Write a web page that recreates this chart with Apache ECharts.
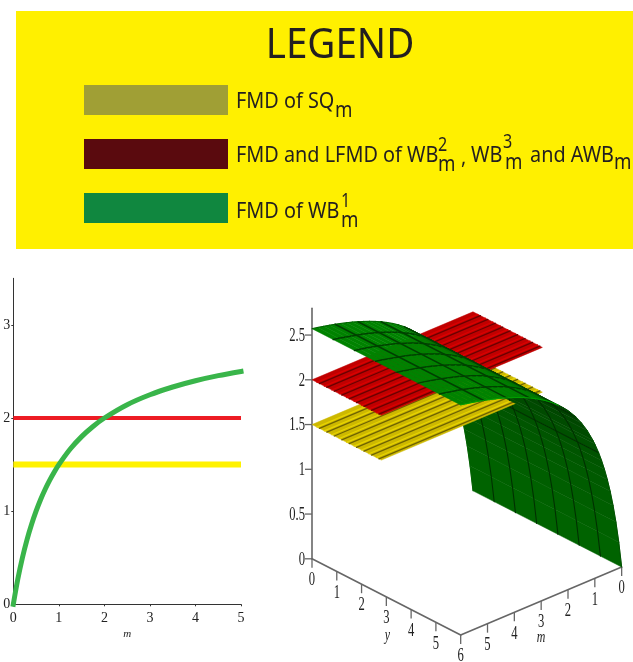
<!DOCTYPE html>
<html><head><meta charset="utf-8">
<style>html,body{margin:0;padding:0;background:#fff}#c{width:633px;height:662px}</style>
<script src="https://cdn.jsdelivr.net/npm/echarts@6/dist/echarts.min.js"></script>
</head><body><div id="c"></div>
<script>
// ---- 2D chart data
const lineM = [0,0.1,0.2,0.3,0.4,0.5,0.6,0.7,0.8,0.9,1,1.25,1.5,1.75,2,2.5,3,3.5,4,4.5,5];
const lineWB1 = [0,0.273,0.5,0.692,0.857,1,1.125,1.235,1.333,1.421,1.5,1.667,1.8,1.909,2,2.143,2.25,2.333,2.4,2.455,2.5];
const lineLimitsM = [0,5];
const lineRed = [2,2];
const lineYellow = [1.5,1.5];
const xTicks2D = [0,1,2,3,4,5];
const yTicks2D = [0,1,2,3];
// ---- 3D chart data
const surfM = [0,0.107,0.214,0.321,0.429,0.536,0.643,0.75,0.857,1,1.071,1.286,1.5,1.714,1.929,2,2.143,2.357,2.571,2.786,3,3.214,3.429,3.643,3.857,4.071,4.286,4.5,4.714,4.929,5.143,5.357,5.571,5.786,6];
const surfZ = [0,0.29,0.529,0.729,0.901,1.047,1.174,1.286,1.385,1.5,1.551,1.688,1.8,1.895,1.976,2,2.045,2.106,2.16,2.208,2.25,2.288,2.323,2.354,2.382,2.408,2.432,2.455,2.475,2.494,2.512,2.528,2.543,2.558,2.571];
const surfMGrid = [0.857,1.714,2.571,3.429,4.286,5.143];
const surfYGrid = [0.857,1.714,2.571,3.429,4.286,5.143];
const surfYRange = [0,6];
const planeMRange = [0,6];
const planeYRange = [0,2.8];
const planeRedZ = 2;
const planeYellowZ = 1.5;
const planeStripes = [0.3,0.6,0.9,1.2,1.5,1.8,2.1,2.4,2.7];
const zTicks3D = [0,0.5,1,1.5,2,2.5];
const yTicks3D = [0,1,2,3,4,5,6];
const mTicks3D = [0,1,2,3,4,5];
// ---- legend text
const legendTitle = 'LEGEND';

const serif = '"Liberation Serif"';
const sans = '"Noto Sans"';

function proj(m,y,z){ return [24.78*y+26.83*(6-m), 89.5*z-12.7*y+11.33*(6-m)]; }
function lerp(a,b,t){ t=Math.max(0,Math.min(1,t)); return a+(b-a)*t; }
function surfColor(mid,top){
  if(top){ return 'rgb(0,'+Math.round(lerp(92,130,(mid-2.27)/0.9))+',0)'; }
  return 'rgb(0,'+Math.round(lerp(100,52,mid/2.27))+',0)';
}
// Painter list: rising z is always nearer the viewer, so z order is exact.
const paint = [];
for(let i=0;i<surfM.length-1;i++){
  paint.push({kind:'strip',i:i,key:(surfZ[i]+surfZ[i+1])/2});
}
paint.push({kind:'plane',z:planeYellowZ,key:planeYellowZ,fill:'#cdb800',dark:'#6e6300',light:'#e8d400'});
paint.push({kind:'plane',z:planeRedZ,key:planeRedZ,fill:'#c00000',dark:'#6a0000',light:'#dc0000'});
paint.sort((a,b)=>a.key-b.key);

function seg(api,p,q,color,w){
  const a=api.coord(p),b=api.coord(q);
  return {type:'line',shape:{x1:a[0],y1:a[1],x2:b[0],y2:b[1]},style:{stroke:color,lineWidth:w,fill:null,lineCap:'round'},silent:true};
}
function poly(api,pts,fill){
  return {type:'polygon',shape:{points:pts.map(p=>api.coord(p))},style:{fill:fill,stroke:fill,lineWidth:0.5},silent:true};
}
function renderSurface(params,api){
  const it=paint[api.value(0)];
  const ch=[];
  if(it.kind==='strip'){
    const i=it.i,m0=surfM[i],m1=surfM[i+1],z0=surfZ[i],z1=surfZ[i+1];
    const top=(z1-z0)/(m1-m0)<0.28, mid=(m0+m1)/2;
    const y0=surfYRange[0],y1=surfYRange[1];
    const col=surfColor(mid,top);
    ch.push(poly(api,[proj(m0,y0,z0),proj(m1,y0,z1),proj(m1,y1,z1),proj(m0,y1,z0)],col));
    const lc=top?'#004000':'#003000';
    const lw=top?1.5:1.1;
    surfYGrid.forEach(y=>ch.push(seg(api,proj(m0,y,z0),proj(m1,y,z1),lc,lw)));
    if(surfMGrid.some(g=>Math.abs(g-m0)<0.001)){
      ch.push(seg(api,proj(m0,y0,z0),proj(m0,y1,z0),lc,lw));
    }
    ch.push(seg(api,proj(m0,y1,z0),proj(m1,y1,z1),top?'#00a000':'#005000',1));
    ch.push(seg(api,proj(m0,y0,z0),proj(m1,y0,z1),'#006000',1));
  } else {
    const z=it.z,m0=planeMRange[0],m1=planeMRange[1],y0=planeYRange[0],y1=planeYRange[1];
    ch.push(poly(api,[proj(m0,y0,z),proj(m1,y0,z),proj(m1,y1,z),proj(m0,y1,z)],it.fill));
    planeStripes.forEach(y=>{
      ch.push(seg(api,proj(m0,y-0.1,z),proj(m1,y-0.1,z),it.light,1.2));
      ch.push(seg(api,proj(m0,y,z),proj(m1,y,z),it.dark,1.3));
    });
  }
  return {type:'group',children:ch};
}
function label(api,pos,dx,dy,text,size,align,italic){
  const a=api.coord(pos);
  return {type:'text',x:a[0]+dx,y:a[1]+dy,scaleX:0.7,silent:true,
    style:{text:String(text),fill:'#222',fontFamily:serif,fontSize:size,fontStyle:italic?'italic':'normal',
      align:align||'center',verticalAlign:'middle'}};
}
function renderAxes(params,api){
  const ax='#666', ch=[];
  const O=proj(6,0,0),C=proj(6,6,0),R=proj(0,6,0);
  ch.push(seg(api,O,proj(6,0,2.8),ax,1.6));
  ch.push(seg(api,O,C,ax,1.6));
  ch.push(seg(api,C,R,ax,1.6));
  zTicks3D.forEach(z=>{
    const p=proj(6,0,z),a=api.coord(p);
    ch.push({type:'line',shape:{x1:a[0]-7,y1:a[1],x2:a[0],y2:a[1]},style:{stroke:ax,lineWidth:1.3},silent:true});
    ch.push(label(api,p,-7,1,z,18,'right'));
  });
  yTicks3D.forEach(y=>{
    const p=proj(6,y,0),a=api.coord(p);
    ch.push({type:'line',shape:{x1:a[0],y1:a[1],x2:a[0],y2:a[1]+9},style:{stroke:ax,lineWidth:1.3},silent:true});
    ch.push(label(api,p,0,21.5,y,18));
  });
  mTicks3D.forEach(m=>{
    const p=proj(m,6,0),a=api.coord(p);
    ch.push({type:'line',shape:{x1:a[0],y1:a[1],x2:a[0],y2:a[1]+9},style:{stroke:ax,lineWidth:1.3},silent:true});
    ch.push(label(api,p,0,21.5,m,18));
  });
  ch.push(label(api,proj(6,3,0),1,39,'y',17,'center',true));
  ch.push(label(api,proj(3,6,0),0,37,'m',17,'center',true));
  return {type:'group',children:ch};
}
function t(text,x,y,size,scale,align){
  return {type:'text',x:x,y:y,scaleX:scale||0.945,silent:true,
    style:{text:text,fill:'#231f20',fontFamily:sans,fontSize:size,align:align||'left',verticalAlign:'middle'}};
}
const swatch=(y,c)=>({type:'rect',shape:{x:84,y:y,width:144,height:30},style:{fill:c},silent:true});

const chart=echarts.init(document.getElementById('c'),null,{renderer:'canvas'});
chart.setOption({
  animation:false,
  backgroundColor:'#fff',
  graphic:[
    {type:'rect',shape:{x:16,y:11,width:617,height:238},style:{fill:'#fff000'},silent:true},
    t(legendTitle,340,46,41,0.94,'center'),
    swatch(85,'#a09f35'),swatch(139,'#5a0a0e'),swatch(193,'#10873f'),
    t('FMD of SQ',236,102,21),t('m',335,111,22,0.85),
    t('FMD and LFMD of WB',236,156,21),t('2',438,146,19,0.85),t('m',438,165,22,0.85),
    t(',',461,158,21),t('WB',471,156,21),t('3',503,143,19,0.85),t('m',505,163,22,0.85),
    t('and AWB',530,156,21),t('m',614,163,22,0.85),
    t('FMD of WB',236,212,21),t('1',341,202,19,0.85),t('m',341,221,22,0.85)
  ],
  grid:[
    {left:13.3,top:278.3,width:227.7,height:326,containLabel:false},
    {left:290,top:290,width:343,height:372}
  ],
  xAxis:[
    {gridIndex:0,type:'value',min:0,max:5,interval:1,splitLine:{show:false},
     name:'m',nameLocation:'middle',nameGap:24,nameTextStyle:{fontFamily:serif,fontStyle:'italic',fontSize:11,color:'#222'},
     axisLine:{show:true,onZero:false,lineStyle:{color:'#333',width:1}},
     axisTick:{show:true,length:2,lineStyle:{color:'#333'}},
     axisLabel:{fontFamily:serif,fontSize:14,color:'#222',margin:7,hideOverlap:false,customValues:xTicks2D}},
    {gridIndex:1,type:'value',min:-22,max:321,show:false,splitLine:{show:false}}
  ],
  yAxis:[
    {gridIndex:0,type:'value',min:0,max:3.5,interval:1,splitLine:{show:false},
     axisLine:{show:true,onZero:false,lineStyle:{color:'#333',width:1}},
     axisTick:{show:true,length:2,lineStyle:{color:'#333'},customValues:yTicks2D},
     axisLabel:{fontFamily:serif,fontSize:14,color:'#222',margin:3,customValues:yTicks2D}},
    {gridIndex:1,type:'value',min:-103.2,max:268.8,show:false,splitLine:{show:false}}
  ],
  series:[
    {type:'line',xAxisIndex:0,yAxisIndex:0,showSymbol:false,symbol:'none',silent:true,
     data:lineLimitsM.map((m,i)=>[m,lineYellow[i]]),lineStyle:{color:'#fff200',width:6,cap:'butt'}},
    {type:'line',xAxisIndex:0,yAxisIndex:0,showSymbol:false,symbol:'none',silent:true,
     data:lineLimitsM.map((m,i)=>[m,lineRed[i]]),lineStyle:{color:'#ed1c24',width:4,cap:'butt'}},
    {type:'line',xAxisIndex:0,yAxisIndex:0,showSymbol:false,symbol:'none',silent:true,clip:false,smooth:0.3,
     data:lineM.map((m,i)=>[m,lineWB1[i]]),lineStyle:{color:'#39b54a',width:5,cap:'square'}},
    {type:'custom',xAxisIndex:1,yAxisIndex:1,coordinateSystem:'cartesian2d',silent:true,clip:false,
     data:[[0]],renderItem:renderAxes,encode:{x:0,y:0}},
    {type:'custom',xAxisIndex:1,yAxisIndex:1,coordinateSystem:'cartesian2d',silent:true,clip:false,
     data:paint.map((p,i)=>[i]),renderItem:renderSurface,encode:{x:0,y:0},progressive:0}
  ]
});
</script></body></html>
